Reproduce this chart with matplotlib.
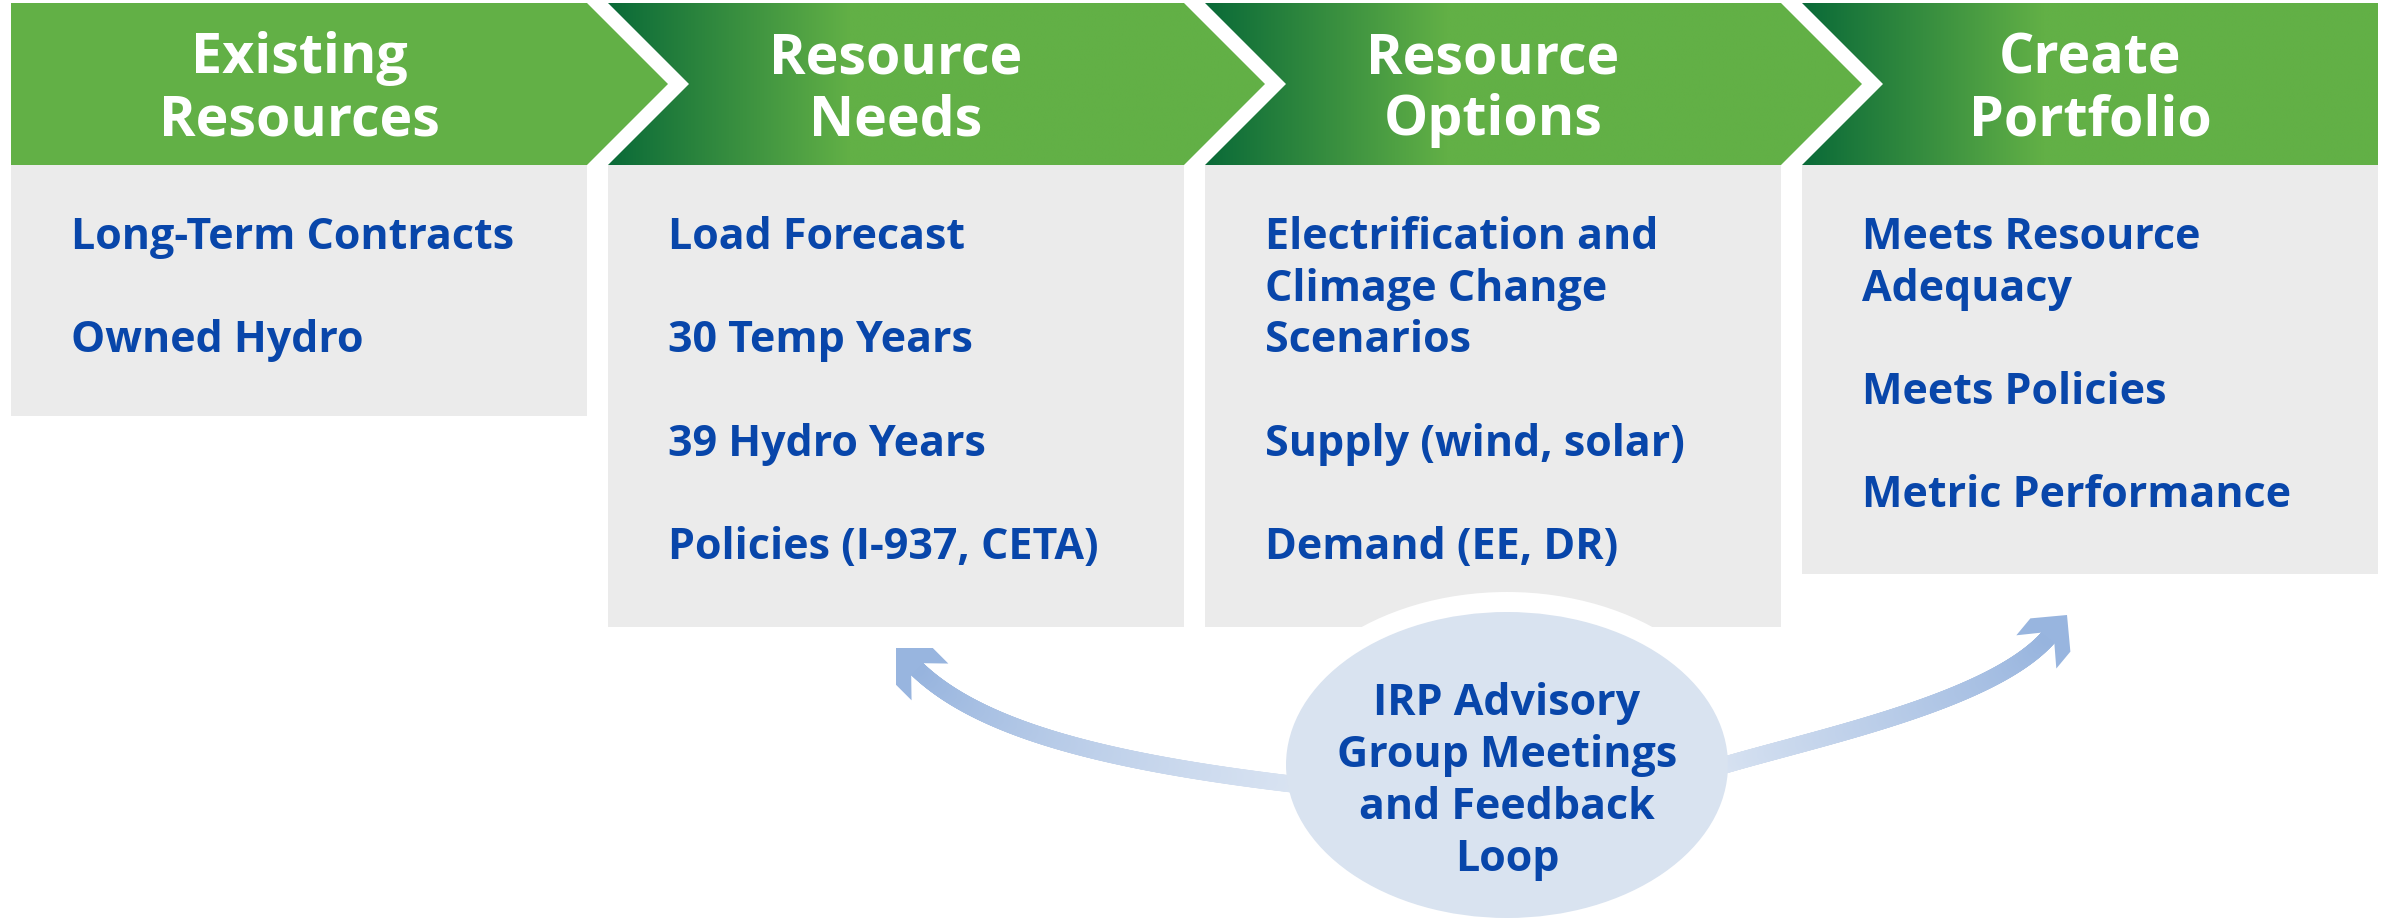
import matplotlib
matplotlib.use("Agg")
import matplotlib.pyplot as plt
import numpy as np
from matplotlib.patches import Polygon, Rectangle, Ellipse
from matplotlib.collections import LineCollection
from matplotlib.colors import to_rgb

plt.rcParams['font.family'] = ['Open Sans', 'DejaVu Sans']

# Contenido del diagrama
etapas = [["Existing", "Resources"], ["Resource", "Needs"],
          ["Resource", "Options"], ["Create", "Portfolio"]]
contenido = [
    ["Long-Term Contracts", "", "Owned Hydro"],
    ["Load Forecast", "", "30 Temp Years", "", "39 Hydro Years", "", "Policies (I-937, CETA)"],
    ["Electrification and", "Climage Change", "Scenarios", "", "Supply (wind, solar)", "", "Demand (EE, DR)"],
    ["Meets Resource", "Adequacy", "", "Meets Policies", "", "Metric Performance"],
]
circulo = ["IRP Advisory", "Group Meetings", "and Feedback", "Loop"]

# Geometria (pixeles)
X0, PASO, ANCHO, PUNTA = 11, 597, 576, 81
Y_TOP, Y_MID, Y_BOT = 4, 85, 166
fondos = [417, 628, 628, 575]

VERDE = "#62b046"
VERDE_OSC = "#0a6a38"
GRIS = "#ebebeb"
AZUL = "#0846aa"
CELESTE = "#d9e3f0"

fig = plt.figure(figsize=(23.84, 9.2), dpi=100)
ax = fig.add_axes([0, 0, 1, 1])

claro = np.array(to_rgb(VERDE))
oscuro = np.array(to_rgb(VERDE_OSC))

for i, titulo in enumerate(etapas):
    x0 = X0 + i * PASO
    x1 = x0 + ANCHO
    # panel gris
    ax.add_patch(Rectangle((x0, Y_BOT), ANCHO, fondos[i] - Y_BOT, fc=GRIS, ec="none", zorder=1))
    # cabecera en forma de flecha
    pts = [(x0, Y_TOP), (x1, Y_TOP)]
    if i < 3:
        pts.append((x1 + PUNTA, Y_MID))
    pts += [(x1, Y_BOT), (x0, Y_BOT)]
    if i > 0:
        pts.append((x0 + PUNTA, Y_MID))
    poly = Polygon(pts, closed=True, fc=VERDE if i == 0 else "none", ec="none", zorder=2)
    ax.add_patch(poly)
    if i > 0:
        xs = np.linspace(x0, x1 + PUNTA, 500)
        f = np.clip((xs - x0) / (0.42 * ANCHO), 0, 1)
        cols = oscuro[None, :] * (1 - f)[:, None] + claro[None, :] * f[:, None]
        img = ax.imshow(cols[None, :, :], extent=[x0, x1 + PUNTA, Y_BOT, Y_TOP],
                        aspect="auto", interpolation="bilinear", zorder=2)
        img.set_clip_path(poly)
    cx = (x0 + x1) / 2
    for k, linea in enumerate(titulo):
        ax.text(cx, 73 + k * 62, linea, ha="center", va="baseline", color="white",
                fontsize=40, fontweight="bold", zorder=3)
    for k, linea in enumerate(contenido[i]):
        if linea:
            ax.text(x0 + 60, 249 + k * 51.7, linea, ha="left", va="baseline", color=AZUL,
                    fontsize=31, fontweight="bold", zorder=3)


def bezier(p0, p1, p2, p3, n=300):
    t = np.linspace(0, 1, n)[:, None]
    p0, p1, p2, p3 = map(np.array, (p0, p1, p2, p3))
    return (1 - t) ** 3 * p0 + 3 * (1 - t) ** 2 * t * p1 + 3 * (1 - t) * t ** 2 * p2 + t ** 3 * p3


def flecha(punta, direc, p0, p1):
    d = np.array(direc, float)
    d /= np.linalg.norm(d)
    n = np.array([-d[1], d[0]])
    tip = np.array(punta, float)
    p3 = tip - 26 * d
    p2 = p3 - 88 * d
    curva = bezier(p0, p1, p2, p3)
    seg = np.stack([curva[:-1], curva[1:]], axis=1)
    f = np.linspace(0, 1, len(seg))[:, None]
    c0 = np.array(to_rgb("#dae4f2"))
    c1 = np.array(to_rgb("#97b4de"))
    cols = c0 * (1 - f) + c1 * f
    lc = LineCollection(seg, colors=cols, linewidths=12.2, capstyle="round", zorder=4)
    ax.add_collection(lc)
    forma = [(0, 0), (26, 26), (48, 26), (30, 8.5), (30, -8.5), (48, -26), (26, -26)]
    cab = [tip - u * d + v * n for u, v in forma]
    ax.add_patch(Polygon(cab, closed=True, fc="#98b5df", ec="none", zorder=5))


# elipse central con borde blanco
ax.add_patch(Ellipse((1507, 766), 482, 346, fc="white", ec="none", zorder=3))
flecha((896, 649), (-1, -1), (1300, 786), (1103, 763))
flecha((2067, 616), (0.639, -0.769), (1715, 769), (1810, 740))
ax.add_patch(Ellipse((1507, 766), 442, 306, fc=CELESTE, ec="none", zorder=6))
for k, linea in enumerate(circulo):
    ax.text(1507, 715 + k * 52, linea, ha="center", va="baseline", color=AZUL,
            fontsize=31, fontweight="bold", zorder=7)

ax.set_xlim(0, 2384)
ax.set_ylim(920, 0)
ax.axis("off")

plt.savefig("out.png", dpi=100)
